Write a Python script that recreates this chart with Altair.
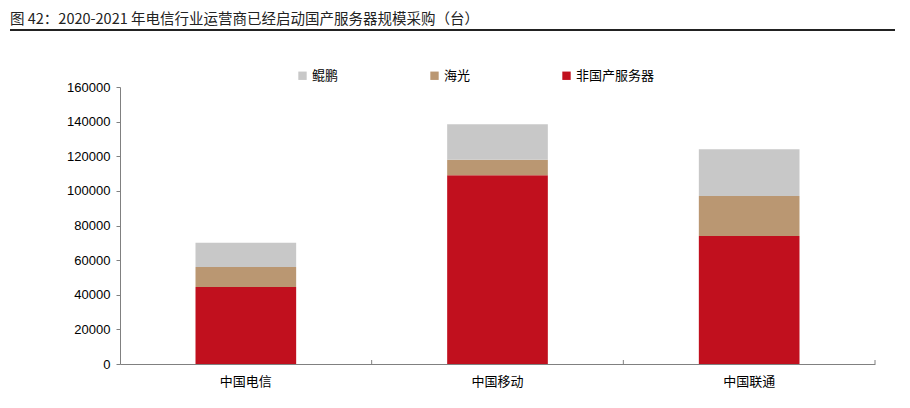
import altair as alt
import pandas as pd

categories = ["中国电信", "中国移动", "中国联通"]
series_names = ["非国产服务器", "海光", "鲲鹏"]
non_domestic = [44500, 109000, 74000]
hygon = [11500, 9000, 23000]
kunpeng = [14000, 20500, 27000]
y_ticks = [0, 20000, 40000, 60000, 80000, 100000, 120000, 140000, 160000]
title_text = "图 42：2020-2021 年电信行业运营商已经启动国产服务器规模采购（台）"

colors = {"鲲鹏": "#C8C8C8", "海光": "#BA9772", "非国产服务器": "#C1101E"}
legend_order = ["鲲鹏", "海光", "非国产服务器"]

rows = []
for i, c in enumerate(categories):
    for k, (name, vals) in enumerate(zip(series_names, [non_domestic, hygon, kunpeng])):
        rows.append({"cat": c, "series": name, "value": vals[i], "order": k})
df = pd.DataFrame(rows)

W, H = 755, 277
CJK = "Noto Sans CJK SC"

xscale = alt.Scale(domain=categories, paddingInner=0, paddingOuter=0)

bars = alt.Chart(df).mark_bar(width=alt.RelativeBandSize(0.4)).encode(
    x=alt.X("cat:N", scale=xscale, sort=categories,
            axis=alt.Axis(title=None, labelAngle=0, labelFont=CJK, labelFontSize=13,
                          labelColor="#000", labelPadding=11, ticks=False,
                          domainColor="#808080", domainWidth=1)),
    y=alt.Y("value:Q", stack="zero",
            scale=alt.Scale(domain=[0, 160000], nice=False),
            axis=alt.Axis(title=None, values=y_ticks, format="d", grid=False,
                          labelFont="Liberation Sans", labelFontSize=13, labelColor="#000",
                          labelPadding=6, tickSize=4, tickColor="#808080",
                          domainColor="#808080", domainWidth=1)),
    color=alt.Color("series:N",
                    scale=alt.Scale(domain=legend_order, range=[colors[s] for s in legend_order]),
                    legend=alt.Legend(title=None, orient="none", direction="horizontal",
                                      legendX=176, legendY=-18, symbolType="square",
                                      symbolSize=70, symbolStrokeWidth=0,
                                      labelFont=CJK, labelFontSize=13, labelColor="#000",
                                      columnPadding=89, labelOffset=3)),
    order=alt.Order("order:Q", sort="ascending"),
)

ticks_df = pd.DataFrame({"cat": categories})
xticks = alt.Chart(ticks_df).mark_rule(color="#808080", strokeWidth=1).encode(
    x=alt.X("cat:N", scale=xscale, sort=categories, bandPosition=1),
    y=alt.value(H),
    y2=alt.value(H - 4),
)

title_df = pd.DataFrame({"t": [title_text]})
title = alt.Chart(title_df).mark_text(
    align="left", baseline="middle", font=CJK, fontSize=14.5, color="#222", clip=False
).encode(text="t:N", x=alt.value(-110), y=alt.value(-67))

line = alt.Chart(title_df).mark_rule(color="#222", strokeWidth=2, clip=False).encode(
    x=alt.value(-110), x2=alt.value(780), y=alt.value(-57)
)

chart = alt.layer(bars, xticks, title, line).properties(
    width=W, height=H,
    autosize=alt.AutoSizeParams(type="none"),
    padding={"left": 112, "top": 79, "right": 20, "bottom": 28},
).configure_view(stroke=None)

chart.save("out.html", embed_options={"renderer": "svg", "actions": False})
